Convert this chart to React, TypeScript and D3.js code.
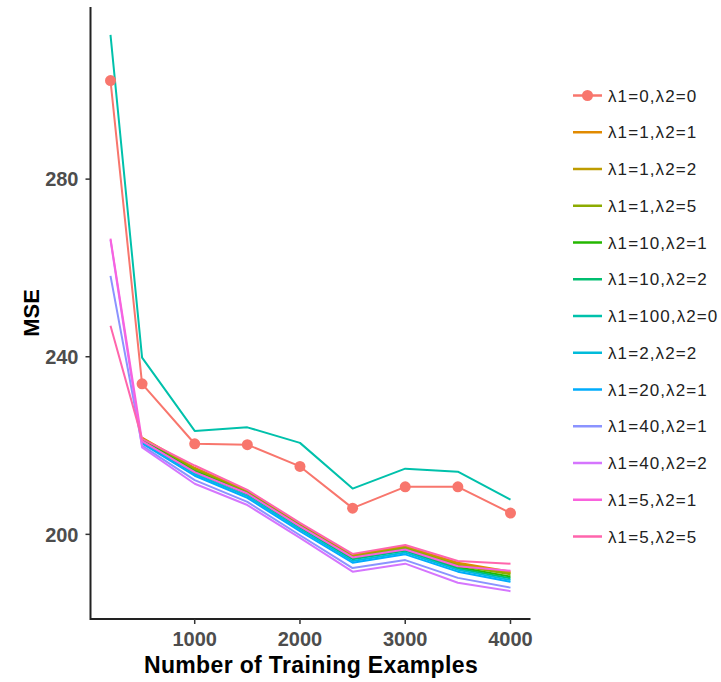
import { useMemo } from "react";
import * as d3 from "d3";

const trainingSizes = [200, 500, 1000, 1500, 2000, 2500, 3000, 3500, 4000];

const seriesLabels = [
  "λ1=0,λ2=0",
  "λ1=1,λ2=1",
  "λ1=1,λ2=2",
  "λ1=1,λ2=5",
  "λ1=10,λ2=1",
  "λ1=10,λ2=2",
  "λ1=100,λ2=0",
  "λ1=2,λ2=2",
  "λ1=20,λ2=1",
  "λ1=40,λ2=1",
  "λ1=40,λ2=2",
  "λ1=5,λ2=1",
  "λ1=5,λ2=5",
];

// ggplot default hue palette for 13 levels
const seriesColors = [
  "#F8766D", "#E18A00", "#BE9C00", "#8CAB00", "#24B700", "#00BE70", "#00C1AB",
  "#00BBDA", "#00ACFC", "#8B93FF", "#D575FE", "#F962DD", "#FF65AC",
];

// MSE per training size, null where the run is missing
const mseValues: (number | null)[][] = [
  [302.2, 233.9, 220.4, 220.2, 215.3, 205.9, 210.7, 210.7, 204.8],
  [null, 221.8, 215.0, 209.8, 202.4, 195.3, 197.3, 193.6, 191.6],
  [null, 221.6, 214.8, 209.6, 202.2, 195.1, 197.1, 193.3, 191.3],
  [null, 221.4, 214.6, 209.4, 202.0, 194.9, 196.9, 193.0, 191.0],
  [null, 221.2, 214.2, 209.2, 201.7, 194.6, 196.6, 192.6, 190.5],
  [null, 221.0, 214.0, 209.0, 201.5, 194.4, 196.3, 192.3, 190.1],
  [312.5, 239.8, 223.3, 224.1, 220.6, 210.3, 214.8, 214.1, 207.8],
  [null, 220.8, 213.6, 208.6, 201.1, 194.0, 195.9, 192.0, 189.7],
  [null, 220.5, 213.2, 208.2, 200.7, 193.6, 195.5, 191.6, 189.3],
  [258.2, 220.0, 212.2, 207.3, 199.8, 192.4, 194.2, 190.2, 188.0],
  [266.3, 219.6, 211.4, 206.6, 199.2, 191.6, 193.4, 189.1, 187.2],
  [266.6, 221.0, 214.0, 209.2, 201.8, 194.8, 196.6, 192.8, 191.8],
  [247.0, 221.5, 215.5, 210.0, 202.6, 195.6, 197.6, 194.0, 193.4],
];

const xTicks = [1000, 2000, 3000, 4000];
const yTicks = [200, 240, 280];

const W = 721;
const H = 682;
const font = "'Liberation Sans', Arial, sans-serif";

function expand([lo, hi]: [number, number]): [number, number] {
  const pad = (hi - lo) * 0.05;
  return [lo - pad, hi + pad];
}

export default function App() {
  const { x, y } = useMemo(() => {
    const all = mseValues.flat().filter((v): v is number => v != null);
    const x = d3
      .scaleLinear()
      .domain(expand(d3.extent(trainingSizes) as [number, number]))
      .range([90.5, 530.5]);
    const y = d3
      .scaleLinear()
      .domain(expand(d3.extent(all) as [number, number]))
      .range([619, 7]);
    return { x, y };
  }, []);

  const line = d3
    .line<[number, number | null]>()
    .defined((d) => d[1] != null)
    .x((d) => x(d[0]))
    .y((d) => y(d[1] as number));

  const [x0, x1] = x.range();
  const [yBottom, yTop] = y.range();

  return (
    <svg
      width={W}
      height={H}
      style={{ position: "absolute", left: 0, top: 0, background: "#fff" }}
      fontFamily={font}
    >
      {/* series lines */}
      {mseValues.map((vals, i) => (
        <path
          key={seriesLabels[i]}
          d={line(trainingSizes.map((t, j) => [t, vals[j]])) ?? ""}
          fill="none"
          stroke={seriesColors[i]}
          strokeWidth={2}
          strokeLinejoin="round"
        />
      ))}
      {/* points for the unregularised run */}
      {trainingSizes.map((t, j) => (
        <circle key={t} cx={x(t)} cy={y(mseValues[0][j] as number)} r={5.5} fill={seriesColors[0]} />
      ))}

      {/* axes */}
      <line x1={x0} x2={x1} y1={yBottom} y2={yBottom} stroke="#222" strokeWidth={2} />
      <line x1={x0} x2={x0} y1={yBottom + 1} y2={yTop} stroke="#222" strokeWidth={2} />
      {xTicks.map((t) => (
        <g key={t} transform={`translate(${x(t)},${yBottom})`}>
          <line y1={0} y2={5} stroke="#333" strokeWidth={1.5} />
          <text y={26.5} textAnchor="middle" fontSize={20} fontWeight="bold" fill="#4D4D4D">
            {t}
          </text>
        </g>
      ))}
      {yTicks.map((t) => (
        <g key={t} transform={`translate(${x0},${y(t)})`}>
          <line x1={0} x2={-5} stroke="#333" strokeWidth={1.5} />
          <text x={-12} dy="0.36em" textAnchor="end" fontSize={20} fontWeight="bold" fill="#4D4D4D">
            {t}
          </text>
        </g>
      ))}
      <text
        x={311}
        y={673}
        textAnchor="middle"
        fontSize={23}
        fontWeight="bold"
        letterSpacing={0.35}
        fill="#000"
      >
        Number of Training Examples
      </text>
      <text
        transform={`translate(39,${(yTop + yBottom) / 2}) rotate(-90)`}
        textAnchor="middle"
        fontSize={22}
        fontWeight="bold"
        fill="#000"
      >
        MSE
      </text>

      {/* legend */}
      {seriesLabels.map((lab, i) => {
        const ly = 95.5 + i * 36.75;
        return (
          <g key={lab} transform={`translate(573,${ly})`}>
            <line x1={0} x2={29} stroke={seriesColors[i]} strokeWidth={2.5} />
            {i === 0 ? <circle cx={14.5} r={5.5} fill={seriesColors[0]} /> : null}
            <text x={35} dy="0.36em" fontSize={17} letterSpacing={1.1} fill="#222">
              {lab}
            </text>
          </g>
        );
      })}
    </svg>
  );
}
